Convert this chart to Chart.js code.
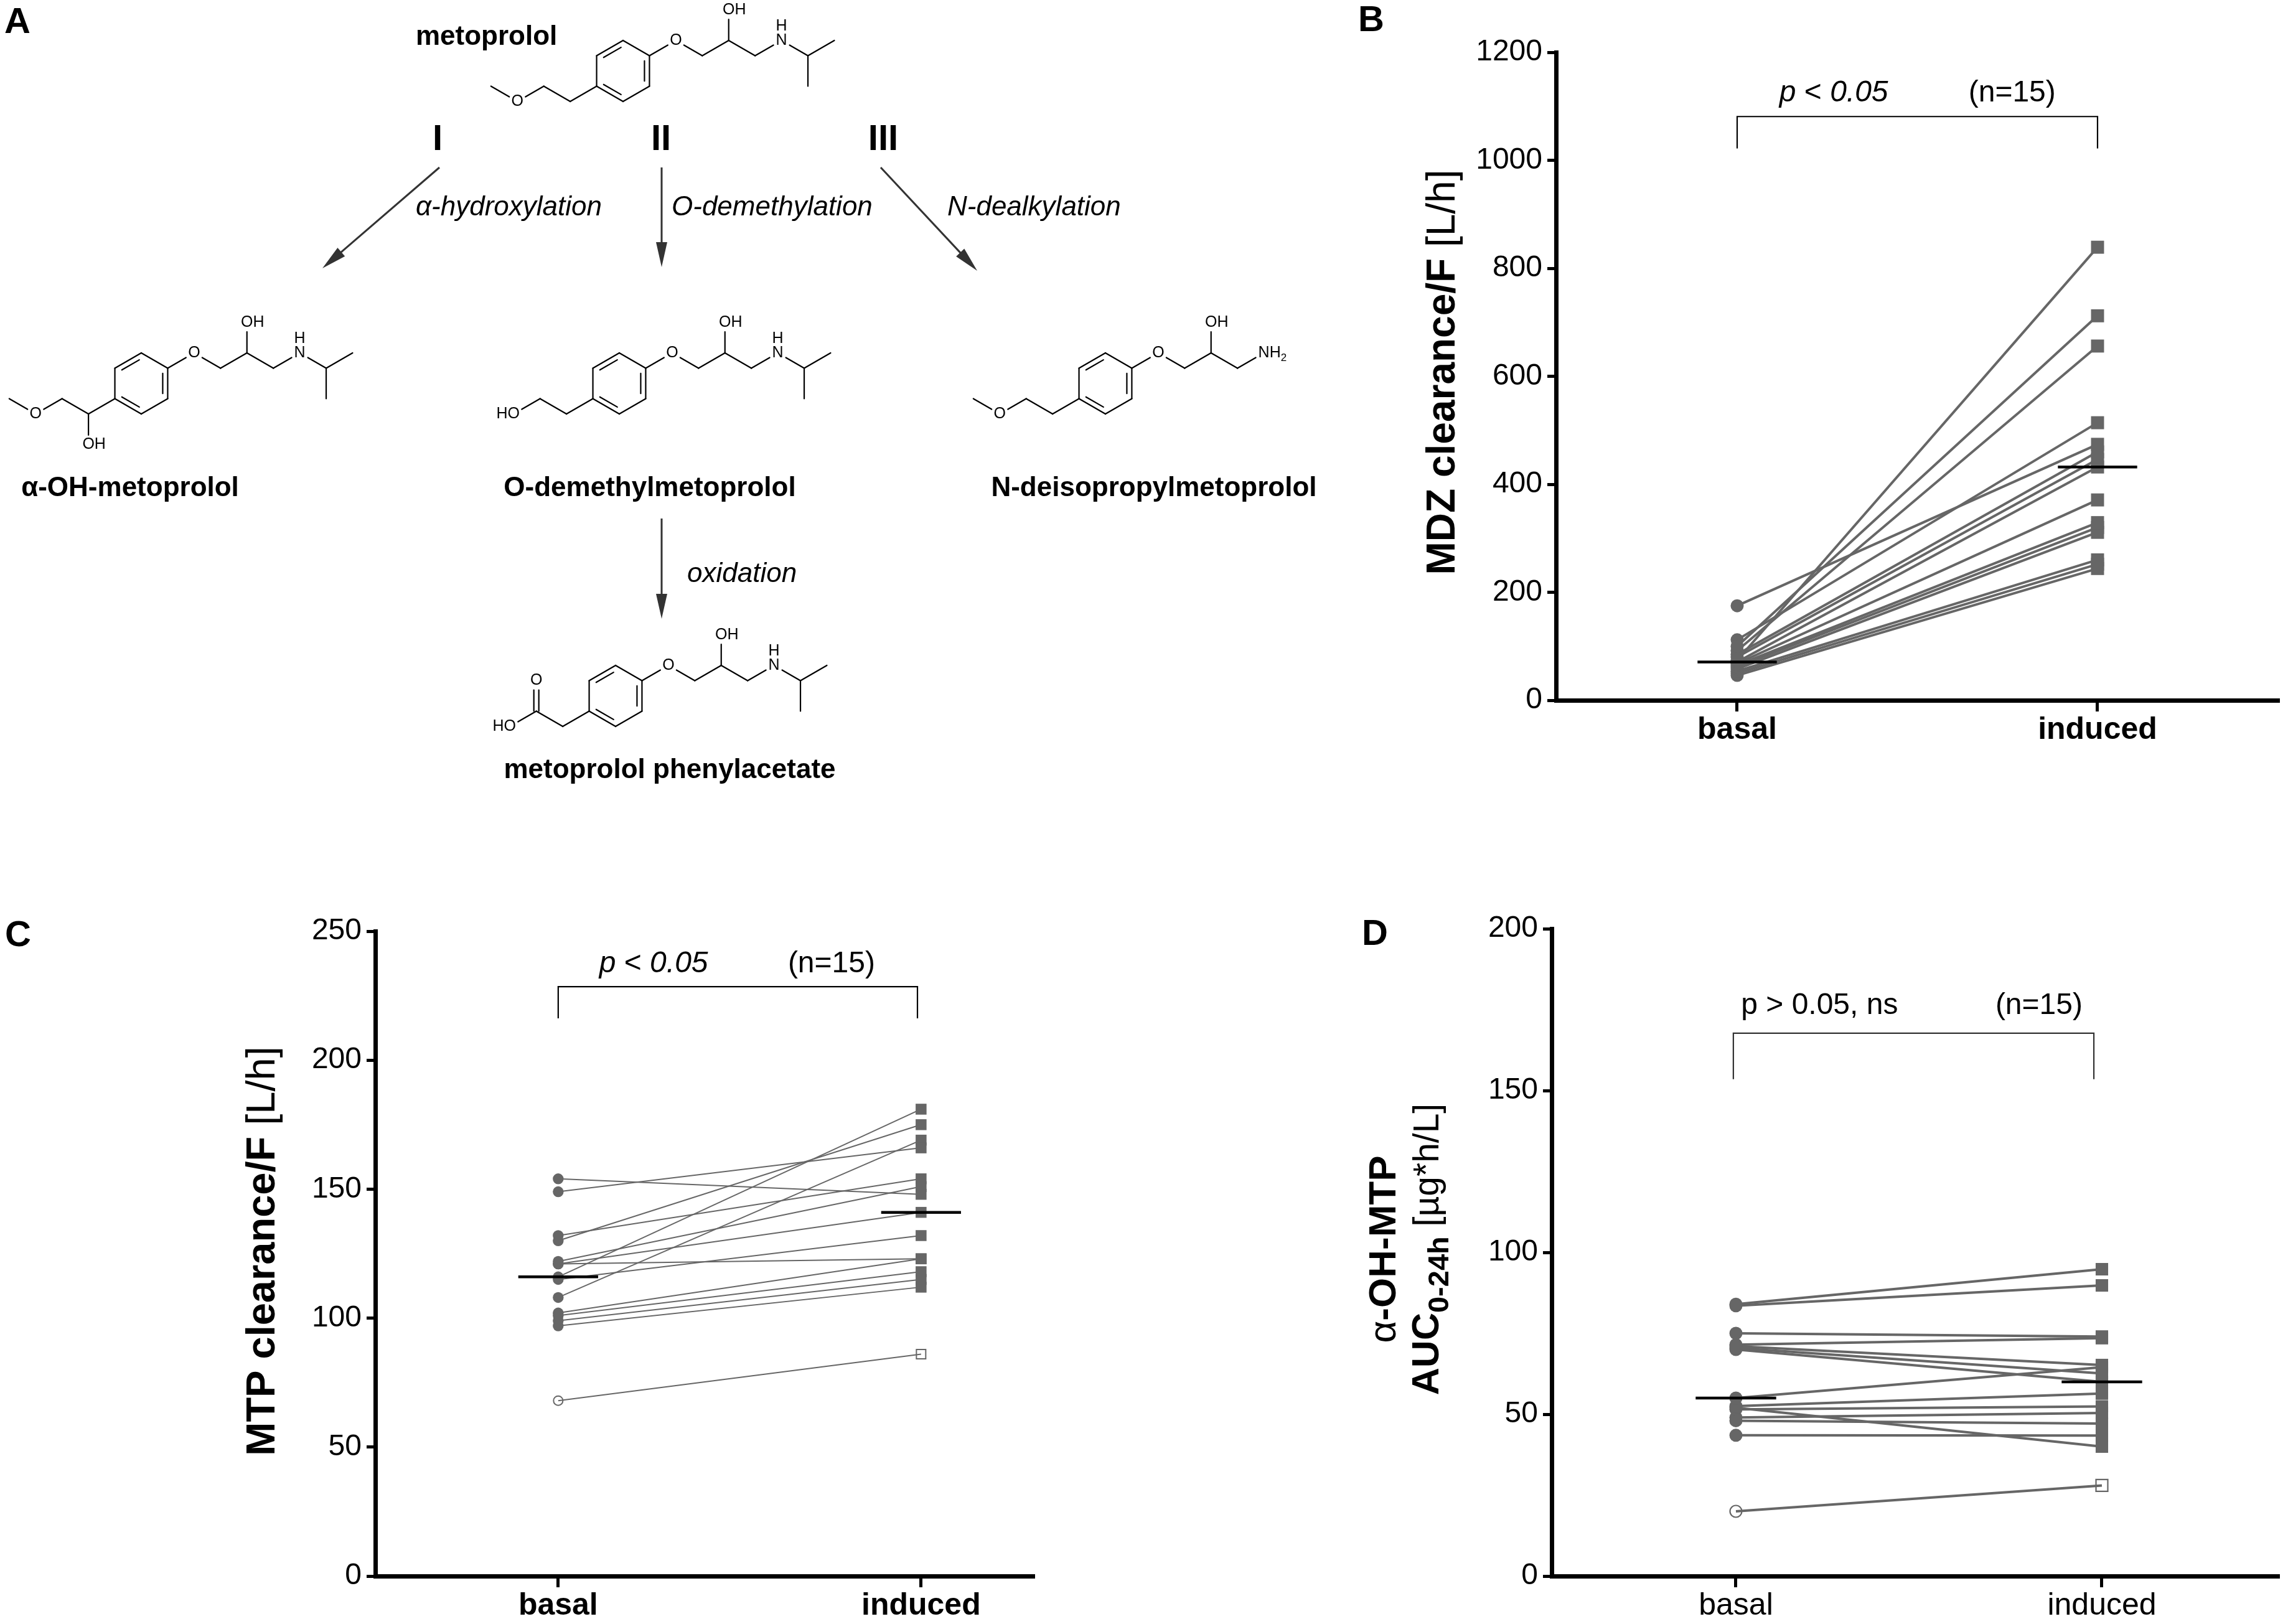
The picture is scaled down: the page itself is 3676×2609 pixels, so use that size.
<!DOCTYPE html>
<html lang="en">
<head>
<meta charset="utf-8">
<title>Metoprolol metabolism and clearance</title>
<script src="https://cdn.jsdelivr.net/npm/chart.js@4.4.1/dist/chart.umd.min.js"></script>
<style>
  html, body { margin: 0; padding: 0; background: #fff; }
  #page { position: relative; width: 3676px; height: 2609px; overflow: hidden; background: #fff; }
  .panel { position: absolute; }
</style>
</head>
<body>
<div id="page">
  <div class="panel" style="left:0;top:0;width:2150px;height:1350px"><canvas id="panelA"></canvas></div>
  <div class="panel" style="left:2150px;top:0;width:1526px;height:1300px"><canvas id="panelB"></canvas></div>
  <div class="panel" style="left:0;top:1380px;width:1800px;height:1229px"><canvas id="panelC"></canvas></div>
  <div class="panel" style="left:2150px;top:1380px;width:1526px;height:1229px"><canvas id="panelD"></canvas></div>
</div>
<script>
const FONT = "'Liberation Sans', Arial, Helvetica, sans-serif";
const GRAY = '#666666';

// ---- data ----
const groupLabels = ['basal', 'induced'];

// B: midazolam clearance/F [L/h], one entry per subject
const mdzBasal   = [175, 74, 100, 92, 112, 85, 80, 71, 68, 65, 62, 58, 54, 50, 46];
const mdzInduced = [474, 839, 712, 656, 514, 460, 446, 432, 371, 329, 320, 311, 260, 252, 244];
const mdzTicks   = [0, 1200, 200];

// C: metoprolol clearance/F [L/h]
const mtpBasal   = [154, 149, 132, 130, 122, 121, 121, 116, 115, 108, 102, 101, 99, 97, 68];
const mtpInduced = [148, 166, 154, 175, 151, 141, 123, 181, 132, 169, 123, 118, 115, 112, 86];
const mtpTicks   = [0, 250, 50];

// D: alpha-OH-metoprolol AUC 0-24h [ug*h/L]
const aucBasal   = [84, 83.5, 75, 71.5, 71, 70.5, 70, 55, 52.5, 52, 51.5, 49, 48, 43.5, 20];
const aucInduced = [94.8, 89.8, 74, 73.5, 65.2, 62.6, 60, 64.5, 56.4, 40, 52.4, 50.4, 47.1, 43.4, 28];
const aucTicks   = [0, 200, 50];

const MEDIAN_HALF = 0.11;

function median(arr) {
  const s = [...arr].sort((a, b) => a - b);
  const n = s.length;
  return n % 2 ? s[(n - 1) / 2] : (s[n / 2 - 1] + s[n / 2]) / 2;
}

// draws a run of text pieces with different fonts; y is the baseline
function drawRich(ctx, parts, x, y, opt) {
  opt = opt || {};
  ctx.save();
  ctx.translate(x, y);
  if (opt.rotate) ctx.rotate(-Math.PI / 2);
  ctx.textBaseline = 'alphabetic';
  ctx.textAlign = 'left';
  ctx.fillStyle = opt.color || '#000';
  let w = 0;
  for (const p of parts) { ctx.font = p.font; w += ctx.measureText(p.t).width; }
  let cx = opt.align === 'center' ? -w / 2 : 0;
  for (const p of parts) {
    ctx.font = p.font;
    ctx.fillText(p.t, cx, p.dy || 0);
    cx += ctx.measureText(p.t).width;
  }
  ctx.restore();
}

function decoPlugin(d) {
  return {
    id: 'deco',
    afterDraw(chart) {
      const ctx = chart.ctx, xs = chart.scales.x, ys = chart.scales.y;
      ctx.save();
      // significance bracket
      const bx0 = xs.getPixelForValue(d.bracket.x[0]), bx1 = xs.getPixelForValue(d.bracket.x[1]);
      const byt = ys.getPixelForValue(d.bracket.top), byb = ys.getPixelForValue(d.bracket.bottom);
      ctx.strokeStyle = d.bracket.color;
      ctx.lineWidth = 2.2;
      ctx.beginPath();
      ctx.moveTo(bx0, byb); ctx.lineTo(bx0, byt); ctx.lineTo(bx1, byt); ctx.lineTo(bx1, byb);
      ctx.stroke();
      d.texts.forEach(t => drawRich(ctx, t.parts, xs.getPixelForValue(t.x), ys.getPixelForValue(t.y)));
      // axis titles (rotated), x,y = centre of the capitals
      d.titles.forEach(t => drawRich(ctx, t.parts, t.x + 0.358 * t.size, t.y, {rotate: true, align: 'center'}));
      drawRich(ctx, [{t: d.letter, font: `bold 58px ${FONT}`}], d.letterX, d.letterY);
      ctx.restore();
    }
  };
}

function pairedChart(canvasId, p) {
  const datasets = [];
  p.basal.forEach((b, i) => {
    const open = i === p.openIdx;
    datasets.push({
      data: [{x: 0, y: b}, {x: 1, y: p.induced[i]}],
      showLine: true,
      borderColor: GRAY,
      borderWidth: p.lineW,
      pointStyle: ['circle', 'rect'],
      pointRadius: open ? p.openR : p.dotR,
      pointBackgroundColor: open ? 'rgba(0,0,0,0)' : GRAY,
      pointBorderColor: GRAY,
      pointBorderWidth: open ? p.openBorder : 0,
      order: 2
    });
  });
  [median(p.basal), median(p.induced)].forEach((m, x) => datasets.push({
    data: [{x: x - MEDIAN_HALF, y: m}, {x: x + MEDIAN_HALF, y: m}],
    showLine: true,
    borderColor: '#000',
    borderWidth: 4.5,
    pointRadius: 0,
    order: 0
  }));

  return new Chart(document.getElementById(canvasId), {
    type: 'scatter',
    data: {datasets},
    options: {
      responsive: true,
      maintainAspectRatio: false,
      animation: false,
      events: [],
      layout: {padding: p.pad},
      plugins: {legend: {display: false}, tooltip: {enabled: false}},
      scales: {
        x: {
          type: 'linear',
          min: p.xRange[0],
          max: p.xRange[1],
          afterBuildTicks: s => { s.ticks = groupLabels.map((_, i) => ({value: i})); },
          afterFit: s => { s.height = p.xHeight; },
          ticks: {
            callback: v => groupLabels[v],
            font: {family: FONT, size: 50, weight: p.xBold ? 'bold' : 'normal'},
            color: '#000',
            padding: 0,
            autoSkip: false,
            maxRotation: 0
          },
          grid: {drawOnChartArea: false, color: '#000', lineWidth: 5, tickLength: 18},
          border: {display: true, color: '#000', width: 7}
        },
        y: {
          type: 'linear',
          min: p.yTicks[0],
          max: p.yTicks[1],
          afterFit: s => { s.width = p.yWidth; },
          ticks: {
            stepSize: p.yTicks[2],
            callback: v => String(v),
            font: {family: FONT, size: 48},
            color: '#000',
            padding: 8,
            autoSkip: false
          },
          grid: {drawOnChartArea: false, color: '#000', lineWidth: 5, tickLength: 14},
          border: {display: true, color: '#000', width: 7}
        }
      }
    },
    plugins: [decoPlugin(p.deco)]
  });
}

const italic48 = `italic 48px ${FONT}`, plain48 = `48px ${FONT}`;
const pLess = [{t: 'p', font: italic48}, {t: ' < ', font: plain48}, {t: '0.05', font: italic48}];
const nText = [{t: '(n=15)', font: plain48}];

pairedChart('panelB', {
  basal: mdzBasal, induced: mdzInduced, openIdx: -1, yTicks: mdzTicks,
  xRange: [-0.5026, 1.5009], pad: {left: 0, top: 84, right: 16, bottom: 0},
  yWidth: 350, xHeight: 175, xBold: true,
  lineW: 4, dotR: [10.5, 14.8], openR: [9, 13], openBorder: 2,
  deco: {
    letter: 'B', letterX: 32, letterY: 50,
    bracket: {x: [0, 1], top: 1081, bottom: 1022, color: '#000'},
    texts: [{parts: pLess, x: 0.117, y: 1109}, {parts: nText, x: 0.642, y: 1109}],
    titles: [{parts: [{t: 'MDZ clearance/F', font: `bold 64px ${FONT}`}, {t: ' [L/h]', font: `64px ${FONT}`}], x: 164, y: 598, size: 64}]
  }
});

pairedChart('panelC', {
  basal: mtpBasal, induced: mtpInduced, openIdx: 14, yTicks: mtpTicks,
  xRange: [-0.504, 1.309], pad: {left: 0, top: 116, right: 140, bottom: 0},
  yWidth: 603, xHeight: 77, xBold: true,
  lineW: 2, dotR: [8.7, 12.4], openR: [7.5, 10.6], openBorder: 2,
  deco: {
    letter: 'C', letterX: 8, letterY: 140,
    bracket: {x: [0, 0.99], top: 228.5, bottom: 216.2, color: '#000'},
    texts: [{parts: pLess, x: 0.113, y: 234}, {parts: nText, x: 0.633, y: 234}],
    titles: [{parts: [{t: 'MTP clearance/F', font: `bold 65px ${FONT}`}, {t: ' [L/h]', font: `65px ${FONT}`}], x: 418, y: 630, size: 65}]
  }
});

pairedChart('panelD', {
  basal: aucBasal, induced: aucInduced, openIdx: 14, yTicks: aucTicks,
  xRange: [-0.5034, 1.4813], pad: {left: 0, top: 112, right: 16, bottom: 0},
  yWidth: 343, xHeight: 77, xBold: false,
  lineW: 4, dotR: [10.5, 14.2], openR: [9.5, 13.4], openBorder: 2.2,
  deco: {
    letter: 'D', letterX: 38, letterY: 138,
    bracket: {x: [-0.007, 0.978], top: 167.7, bottom: 153.5, color: '#333'},
    texts: [{parts: [{t: 'p > 0.05, ns', font: plain48}], x: 0.014, y: 173.7}, {parts: nText, x: 0.709, y: 173.7}],
    titles: [
      {parts: [{t: 'α', font: `62px ${FONT}`}, {t: '-OH-MTP', font: `bold 62px ${FONT}`}], x: 70, y: 627, size: 62},
      {parts: [{t: 'AUC', font: `bold 61px ${FONT}`}, {t: '0-24h', font: `bold 47px ${FONT}`, dy: 16}, {t: ' [µg*h/L]', font: `57px ${FONT}`}], x: 139, y: 627, size: 61}
    ]
  }
});

// ---- panel A: metabolic scheme, drawn on a bare linear coordinate frame ----
const BOND = 49, BDX = BOND * Math.cos(Math.PI / 6), BDY = BOND / 2;
const DIRS = {UR: [BDX, -BDY], DR: [BDX, BDY], UL: [-BDX, -BDY], DL: [-BDX, BDY], U: [0, -BOND], D: [0, BOND]};

function molecule(cx, cy, leftKind, rightKind) {
  const ring = [[cx, cy - BOND], [cx + BDX, cy - BDY], [cx + BDX, cy + BDY],
                [cx, cy + BOND], [cx - BDX, cy + BDY], [cx - BDX, cy - BDY]].map(q => ({x: q[0], y: q[1]}));
  const bonds = [], atoms = [];
  for (let i = 0; i < 6; i++) bonds.push({a: ring[i], b: ring[(i + 1) % 6], inner: i === 5 || i === 1 || i === 3});
  const step = (from, dir, label, dbl) => {
    const nd = {x: from.x + DIRS[dir][0], y: from.y + DIRS[dir][1], label};
    bonds.push({a: from, b: nd, dbl});
    if (label) atoms.push(nd);
    return nd;
  };
  const o = step(ring[1], 'UR', 'O');
  const c1 = step(o, 'DR');
  const c2 = step(c1, 'UR');
  step(c2, 'U', 'OH');
  const c3 = step(c2, 'DR');
  if (rightKind === 'NH2') {
    step(c3, 'UR', 'NH2');
  } else {
    const n = step(c3, 'UR', 'NH');
    const c4 = step(n, 'DR');
    step(c4, 'UR');
    step(c4, 'D');
  }
  const l1 = step(ring[4], 'DL');
  if (leftKind === 'acid') {
    const cc = step(l1, 'UL');
    step(cc, 'U', 'O', true);
    step(cc, 'DL', 'HO');
  } else {
    const l2 = step(l1, 'UL');
    if (leftKind === 'hydroxy') {
      step(l2, 'DL', 'HO');
    } else {
      if (leftKind === 'alphaOH') step(l1, 'D', 'OH');
      const o2 = step(l2, 'DL', 'O');
      step(o2, 'UL');
    }
  }
  return {cx, cy, bonds, atoms};
}

const molecules = [
  molecule(1001, 114, 'methoxy', 'iPr'),   // metoprolol
  molecule(227, 616, 'alphaOH', 'iPr'),    // alpha-OH-metoprolol
  molecule(995, 616, 'hydroxy', 'iPr'),    // O-demethylmetoprolol
  molecule(1776, 616, 'methoxy', 'NH2'),   // N-deisopropylmetoprolol
  molecule(989, 1118, 'acid', 'iPr')       // metoprolol phenylacetate
];

const arrows = [[706, 269, 518, 431], [1063, 269, 1063, 429], [1415, 269, 1570, 435], [1063, 833, 1063, 994]];

const schemeTexts = [
  {t: 'A', font: `bold 58px ${FONT}`, x: 7, y: 53, align: 'left'},
  {t: 'metoprolol', font: `bold 44px ${FONT}`, x: 668, y: 72, align: 'left'},
  {t: 'I', font: `bold 58px ${FONT}`, x: 703, y: 241, align: 'center'},
  {t: 'II', font: `bold 58px ${FONT}`, x: 1062, y: 241, align: 'center'},
  {t: 'III', font: `bold 58px ${FONT}`, x: 1419, y: 241, align: 'center'},
  {t: 'α-hydroxylation', font: `italic 44px ${FONT}`, x: 668, y: 346, align: 'left'},
  {t: 'O-demethylation', font: `italic 44px ${FONT}`, x: 1079, y: 346, align: 'left'},
  {t: 'N-dealkylation', font: `italic 44px ${FONT}`, x: 1522, y: 346, align: 'left'},
  {t: 'oxidation', font: `italic 44px ${FONT}`, x: 1104, y: 935, align: 'left'},
  {t: 'α-OH-metoprolol', font: `bold 44px ${FONT}`, x: 209, y: 797, align: 'center'},
  {t: 'O-demethylmetoprolol', font: `bold 44px ${FONT}`, x: 1044, y: 797, align: 'center'},
  {t: 'N-deisopropylmetoprolol', font: `bold 44px ${FONT}`, x: 1854, y: 797, align: 'center'},
  {t: 'metoprolol phenylacetate', font: `bold 44px ${FONT}`, x: 1076, y: 1250, align: 'center'}
];

const schemePlugin = {
  id: 'scheme',
  afterDraw(chart) {
    const ctx = chart.ctx, xs = chart.scales.x, ys = chart.scales.y;
    const X = v => xs.getPixelForValue(v), Y = v => ys.getPixelForValue(v);
    ctx.save();
    ctx.lineCap = 'round';
    const atomFont = `25px ${FONT}`;

    molecules.forEach(m => {
      ctx.strokeStyle = '#000';
      ctx.lineWidth = 2.2;
      m.bonds.forEach(bd => {
        let ax = bd.a.x, ay = bd.a.y, bx = bd.b.x, by = bd.b.y;
        const len = Math.hypot(bx - ax, by - ay), ux = (bx - ax) / len, uy = (by - ay) / len;
        const sa = bd.a.label ? 15 : 0, sb = bd.b.label ? 15 : 0;
        ax += ux * sa; ay += uy * sa; bx -= ux * sb; by -= uy * sb;
        const offs = bd.dbl ? [-4, 4] : [0];
        offs.forEach(o => {
          ctx.beginPath();
          ctx.moveTo(X(ax - uy * o), Y(ay + ux * o));
          ctx.lineTo(X(bx - uy * o), Y(by + ux * o));
          ctx.stroke();
        });
        if (bd.inner) {
          const mx = (bd.a.x + bd.b.x) / 2, my = (bd.a.y + bd.b.y) / 2;
          const nl = Math.hypot(m.cx - mx, m.cy - my), nx = (m.cx - mx) / nl * 8, ny = (m.cy - my) / nl * 8;
          const ex = bd.b.x - bd.a.x, ey = bd.b.y - bd.a.y;
          ctx.beginPath();
          ctx.moveTo(X(bd.a.x + ex * 0.17 + nx), Y(bd.a.y + ey * 0.17 + ny));
          ctx.lineTo(X(bd.a.x + ex * 0.83 + nx), Y(bd.a.y + ey * 0.83 + ny));
          ctx.stroke();
        }
      });
      ctx.fillStyle = '#000';
      ctx.font = atomFont;
      ctx.textBaseline = 'middle';
      m.atoms.forEach(at => {
        const x = X(at.x), y = Y(at.y);
        const main = at.label === 'NH' || at.label === 'NH2' ? 'N' : 'O';
        const wm = ctx.measureText(main).width;
        ctx.textAlign = 'center';
        ctx.fillText(main, x, y);
        if (at.label === 'OH') { ctx.textAlign = 'left'; ctx.fillText('H', x + wm / 2, y); }
        if (at.label === 'HO') { ctx.textAlign = 'right'; ctx.fillText('H', x - wm / 2, y); }
        if (at.label === 'NH') { ctx.fillText('H', x, y - 23); }
        if (at.label === 'NH2') {
          ctx.textAlign = 'left';
          ctx.fillText('H', x + wm / 2, y);
          const wh = ctx.measureText('H').width;
          ctx.font = `17px ${FONT}`;
          ctx.fillText('2', x + wm / 2 + wh, y + 8);
          ctx.font = atomFont;
        }
      });
    });

    ctx.strokeStyle = '#333';
    ctx.fillStyle = '#333';
    ctx.lineWidth = 3;
    ctx.lineCap = 'butt';
    arrows.forEach(([x1, y1, x2, y2]) => {
      const ang = Math.atan2(Y(y2) - Y(y1), X(x2) - X(x1)), L = 40, W = 9;
      const c = Math.cos(ang), s = Math.sin(ang);
      ctx.beginPath();
      ctx.moveTo(X(x1), Y(y1));
      ctx.lineTo(X(x2) - L * 0.8 * c, Y(y2) - L * 0.8 * s);
      ctx.stroke();
      ctx.beginPath();
      ctx.moveTo(X(x2), Y(y2));
      ctx.lineTo(X(x2) - L * c + W * s, Y(y2) - L * s - W * c);
      ctx.lineTo(X(x2) - L * c - W * s, Y(y2) - L * s + W * c);
      ctx.closePath();
      ctx.fill();
    });

    schemeTexts.forEach(t => drawRich(ctx, [{t: t.t, font: t.font}], X(t.x), Y(t.y), {align: t.align}));
    ctx.restore();
  }
};

new Chart(document.getElementById('panelA'), {
  type: 'scatter',
  data: {datasets: []},
  options: {
    responsive: true,
    maintainAspectRatio: false,
    animation: false,
    events: [],
    layout: {padding: 0},
    plugins: {legend: {display: false}, tooltip: {enabled: false}},
    scales: {
      x: {type: 'linear', min: 0, max: 2150, display: false},
      y: {type: 'linear', min: 0, max: 1350, reverse: true, display: false}
    }
  },
  plugins: [schemePlugin]
});
</script>
</body>
</html>
